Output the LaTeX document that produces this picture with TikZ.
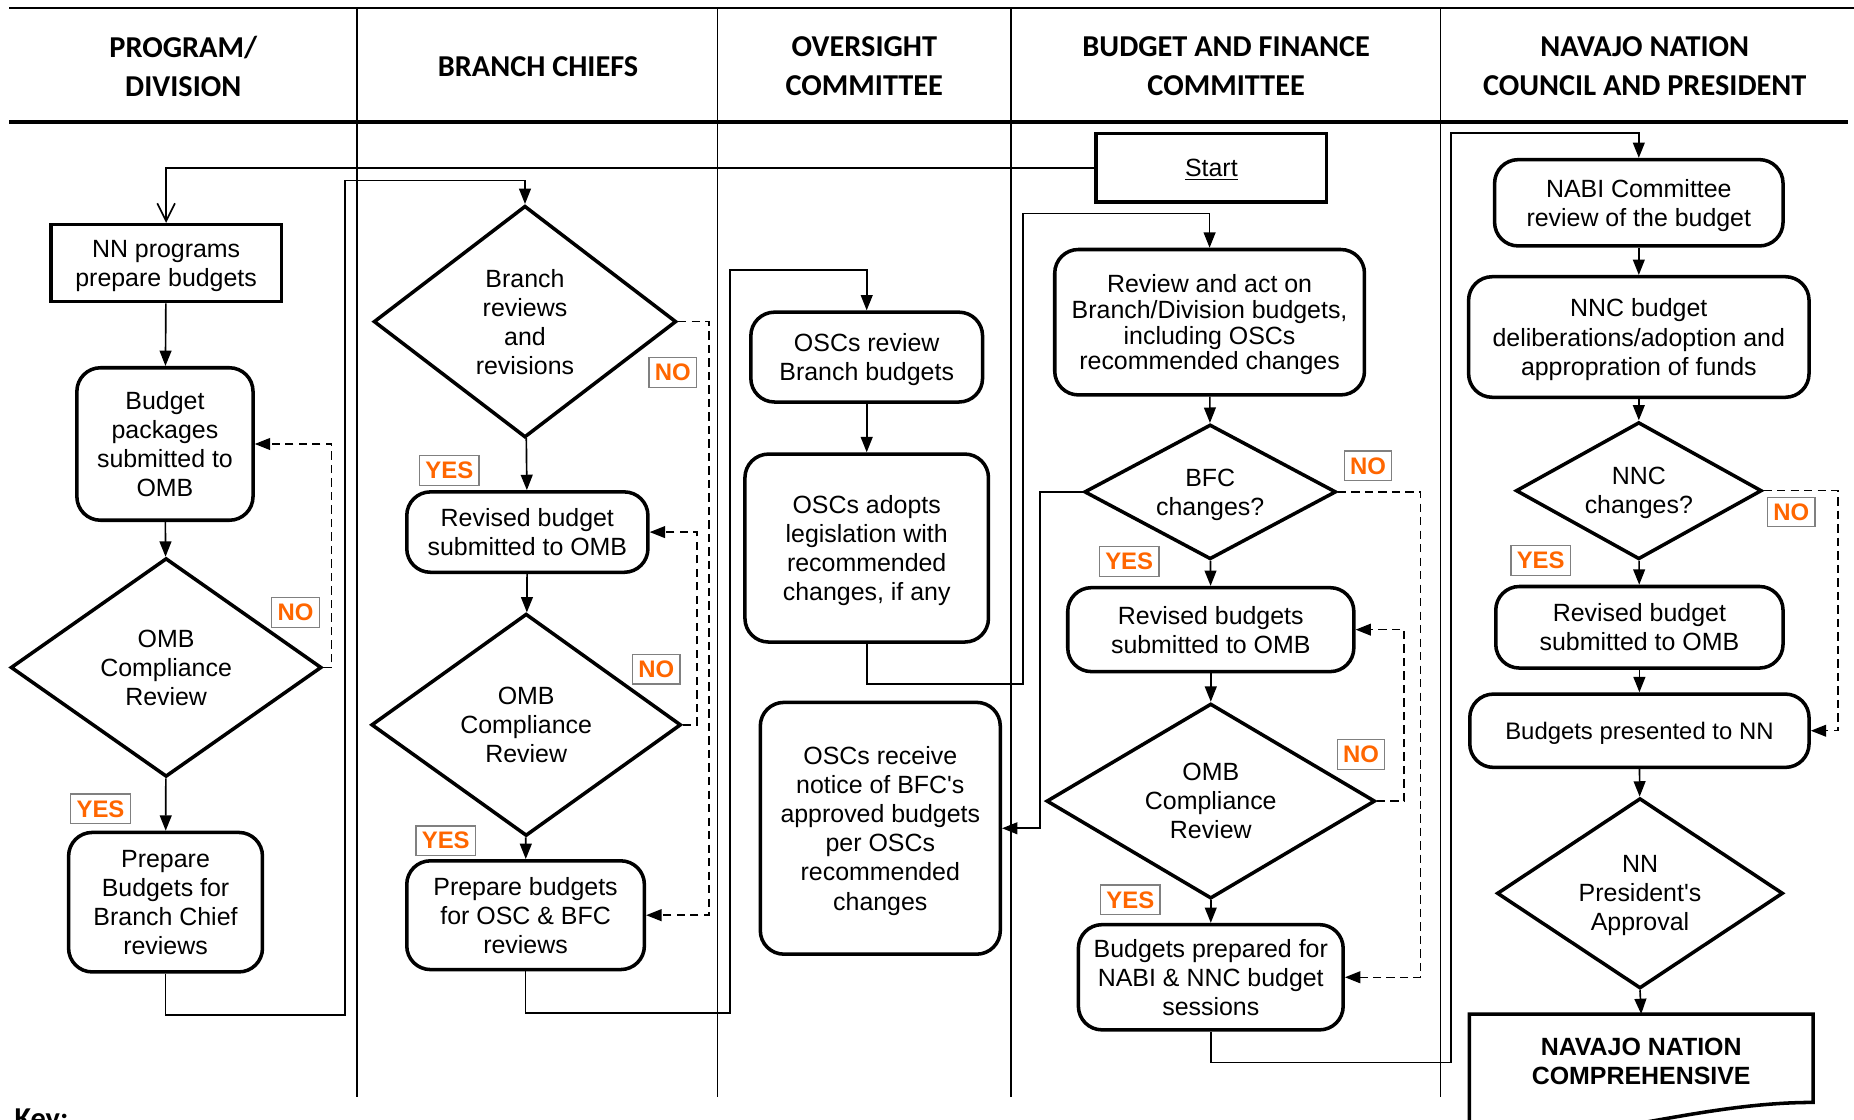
\documentclass[tikz,border=0pt]{standalone}
\usepackage{fontspec}
\setmainfont{Liberation Sans}
\newfontfamily\hdrfont{Carlito}
\usetikzlibrary{arrows.meta,
                shapes.geometric
            }
\definecolor{tagorange}{HTML}{FF6600}
\tikzset{
    arr/.style={draw, line width=0.8pt, -{Triangle[length=0.26cm, width=0.2cm]}},
    dasharr/.style={arr, line width=0.7pt, dash pattern=on 4pt off 2.5pt},
    openarr/.style={draw, line width=0.8pt, -{Straight Barb[length=0.3cm, width=0.3cm]}},
    sq/.style={draw, line width=1.7pt, align=center, inner sep=2pt, text depth=-8pt,
               font=\fontsize{12}{14}\selectfont},
    rnd/.style={sq, rounded corners=0.4cm},
    dia/.style={draw, diamond, aspect=1.4, line width=1.7pt, align=center, inner sep=0pt,
                text depth=-8pt, font=\fontsize{12}{14}\selectfont},
    tag/.style={draw=gray, line width=0.6pt, fill=white, text=tagorange, inner xsep=2.8pt,
                inner ysep=1pt, minimum height=0.5cm, font=\bfseries\fontsize{11.5}{12}\selectfont},
    hdr/.style={align=center, font=\hdrfont\bfseries\fontsize{14.6}{18.8}\selectfont},
    lane/.style={line width=0.6pt}
}
\begin{document}
\begin{tikzpicture}[x=0.02cm, y=-0.02cm]
            \useasboundingbox (0, 0) rectangle (1568, 947);
            \draw[line width=0.8pt] (8, 7) -- (1568, 7);
            \draw[line width=1.7pt] (8, 103) -- (1563, 103);
            \foreach \x in {302, 607, 855, 1218}
                \draw[lane] (\x, 7) -- (\x, 928);
            \node[hdr] (hprog) at (155, 56) {PROGRAM/\\DIVISION};
            \node[hdr] (hbranch) at (455, 56) {BRANCH CHIEFS};
            \node[hdr] (hosc) at (731, 56) {OVERSIGHT\\COMMITTEE};
            \node[hdr] (hbfc) at (1037, 56) {BUDGET AND FINANCE\\COMMITTEE};
            \node[hdr] (hnnc) at (1391, 56) {NAVAJO NATION\\COUNCIL AND PRESIDENT};
            \node[hdr, anchor=north west, inner sep=0pt] (key) at (12, 937) {Key:};

            \node[sq, minimum width=3.9cm, minimum height=1.16cm] (start) at (1024.5, 142) {\underline{Start}};
            \node[sq, minimum width=3.9cm, minimum height=1.3cm] (nnprog) at (140.5, 222.5) {NN programs\\prepare budgets};
            \node[rnd, minimum width=2.98cm, minimum height=2.58cm] (pkg) at (139.5, 375.5) {Budget\\packages\\submitted to\\OMB};
            \node[dia, minimum width=5.26cm, minimum height=3.7cm] (omb1) at (140.5, 564.5) {OMB\\Compliance\\Review};
            \node[rnd, minimum width=3.28cm, minimum height=2.36cm] (pbc) at (140, 763) {Prepare\\Budgets for\\Branch Chief\\reviews};

            \node[dia, minimum width=5.12cm, minimum height=3.92cm] (brrev) at (444, 272) {Branch\\reviews\\and\\revisions};
            \node[rnd, minimum width=4.08cm, minimum height=1.36cm] (rev2) at (446, 450) {Revised budget\\submitted to OMB};
            \node[dia, minimum width=5.24cm, minimum height=3.76cm] (omb2) at (445, 613) {OMB\\Compliance\\Review};
            \node[rnd, minimum width=4.02cm, minimum height=1.84cm] (posc) at (444.5, 774) {Prepare budgets\\for OSC \& BFC\\reviews};

            \node[rnd, minimum width=3.92cm, minimum height=1.52cm] (oscrev) at (733, 302) {OSCs review\\Branch budgets};
            \node[rnd, minimum width=4.12cm, minimum height=3.18cm] (oscadopt) at (733, 463.5) {OSCs adopts\\legislation with\\recommended\\changes, if any};
            \node[rnd, minimum width=4.06cm, minimum height=4.26cm] (oscrecv) at (744.5, 700.5) {OSCs receive\\notice of BFC\textquotesingle s\\approved budgets\\per OSCs\\recommended\\changes};

            \node[rnd, minimum width=5.24cm, minimum height=2.46cm, font=\fontsize{12}{12.4}\selectfont] (bfcrev) at (1023, 272.5) {Review and act on\\Branch/Division budgets,\\including OSCs\\recommended changes};
            \node[dia, minimum width=4.26cm, minimum height=2.28cm] (bfcq) at (1023.5, 416) {BFC\\changes?};
            \node[rnd, minimum width=4.84cm, minimum height=1.42cm] (rev4) at (1024, 532.5) {Revised budgets\\submitted to OMB};
            \node[dia, minimum width=5.56cm, minimum height=3.3cm] (omb4) at (1024, 677.5) {OMB\\Compliance\\Review};
            \node[rnd, minimum width=4.48cm, minimum height=1.78cm] (bprep) at (1024, 826.5) {Budgets prepared for\\NABI \& NNC budget\\sessions};

            \node[rnd, minimum width=4.88cm, minimum height=1.46cm] (nabi) at (1386, 171.5) {NABI Committee\\review of the budget};
            \node[rnd, minimum width=5.76cm, minimum height=2.04cm] (nncb) at (1386, 285) {NNC budget\\deliberations/adoption and\\appropration of funds};
            \node[dia, minimum width=4.16cm, minimum height=2.32cm] (nncq) at (1386, 415) {NNC\\changes?};
            \node[rnd, minimum width=4.86cm, minimum height=1.38cm] (rev5) at (1386.5, 530.5) {Revised budget\\submitted to OMB};
            \node[rnd, minimum width=5.74cm, minimum height=1.24cm, font=\fontsize{11.5}{14}\selectfont] (present) at (1386.5, 618) {Budgets presented to NN};
            \node[dia, minimum width=4.84cm, minimum height=3.22cm] (pres) at (1387, 755.5) {NN\\President\textquotesingle s\\Approval};
            \node[align=center, inner sep=0pt, minimum width=5.8cm, minimum height=1.6cm,
                  font=\bfseries\fontsize{12}{14}\selectfont] (comp) at (1388, 898) {NAVAJO NATION\\COMPREHENSIVE};
            \draw[line width=1.7pt] ([yshift=-0.5cm]comp.south west) -- (comp.north west) -- (comp.north east)
                -- ([yshift=0.12cm]comp.south east) .. controls +(-2cm, 0) and +(2cm, -0.1cm) .. ([yshift=-0.5cm]comp.south west);

            \draw[openarr] (start.west) -| (nnprog.north);
            \draw[arr] (nnprog) -- (pkg);
            \draw[arr] (pkg) -- (omb1);
            \draw[dasharr] (omb1.east) -- ++(7, 0) |- (pkg.east);
            \draw[arr] (omb1) -- (pbc);
            \draw[arr] (pbc.south) -- ++(0, 35) -- ++(152, 0) |- ([yshift=0.4cm]brrev.north) -- (brrev.north);

            \draw[arr] (brrev) -- (rev2);
            \draw[dasharr] (brrev.east) -- ++(26, 0) |- (posc.east);
            \draw[arr] (rev2) -- (omb2);
            \draw[dasharr] (omb2.east) -- ++(12, 0) |- (rev2.east);
            \draw[arr] (omb2) -- (posc);
            \draw[arr] (posc.south) -- ++(0, 35) -- ++(173, 0) |- ([yshift=0.68cm]oscrev.north) -- (oscrev.north);

            \draw[arr] (oscrev) -- (oscadopt);
            \draw[arr] (oscadopt.south) -- ++(0, 34) -- ++(132, 0) |- ([yshift=0.58cm]bfcrev.north) -- (bfcrev.north);

            \draw[arr] (bfcrev) -- (bfcq);
            \draw[arr] (bfcq.west) -- ++(-36, 0) |- (oscrecv.east);
            \draw[arr] (bfcq) -- (rev4);
            \draw[dasharr] (bfcq.east) -- ++(70, 0) |- (bprep.east);
            \draw[arr] (rev4) -- (omb4);
            \draw[dasharr] (omb4.east) -- ++(23, 0) |- (rev4.east);
            \draw[arr] (omb4) -- (bprep);
            \draw[arr] (bprep.south) -- ++(0, 26) -- ++(203, 0) |- ([yshift=0.42cm]nabi.north) -- (nabi.north);

            \draw[arr] (nabi) -- (nncb);
            \draw[arr] (nncb) -- (nncq);
            \draw[arr] (nncq) -- (rev5);
            \draw[dasharr] (nncq.east) -- ++(63, 0) |- (present.east);
            \draw[arr] (rev5) -- (present);
            \draw[arr] (present) -- (pres);
            \draw[arr] (pres.south) -- (comp.north);

            \node[tag] (yes1) at (85, 684) {YES};
            \node[tag] (no1) at (250, 518) {NO};
            \node[tag] (yes2a) at (380, 398) {YES};
            \node[tag] (no2a) at (569, 315) {NO};
            \node[tag] (no2b) at (555, 566) {NO};
            \node[tag] (yes2b) at (377, 711) {YES};
            \node[tag] (no4a) at (1157, 394) {NO};
            \node[tag] (yes4a) at (955, 475) {YES};
            \node[tag] (no4b) at (1151, 638) {NO};
            \node[tag] (yes4b) at (956, 761) {YES};
            \node[tag] (yes5) at (1303, 474) {YES};
            \node[tag] (no5) at (1515, 433) {NO};
        \end{tikzpicture}
\end{document}
